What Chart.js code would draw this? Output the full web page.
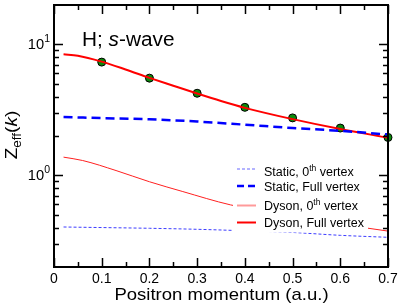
<!DOCTYPE html>
<html>
<head>
<meta charset="utf-8">
<script src="https://cdn.jsdelivr.net/npm/chart.js@4.4.0/dist/chart.umd.min.js"></script>
<style>
  html, body { margin: 0; padding: 0; background: #fff; }
  #wrap { width: 399px; height: 307px; }
</style>
</head>
<body>
<div id="wrap"><canvas id="zeff" width="399" height="307"></canvas></div>
<script>
/* ---- data ---- */
const xTicks = [0, 0.1, 0.2, 0.3, 0.4, 0.5, 0.6, 0.7];
const xTickLabels = ['0', '0.1', '0.2', '0.3', '0.4', '0.5', '0.6', '0.7'];
const xMinorTicks = [0.05, 0.15, 0.25, 0.35, 0.45, 0.55, 0.65];
const yTicks = [1, 10];
const yTickExponents = ['0', '1'];
const yMinorTicks = [0.3, 0.4, 0.5, 0.6, 0.7, 0.8, 0.9, 2, 3, 4, 5, 6, 7, 8, 9];

// Static, 0th vertex (thin dotted blue)
const staticZeroK = [0.02, 0.1, 0.2, 0.3, 0.4, 0.5, 0.6, 0.7];
const staticZeroZ = [0.404, 0.40, 0.395, 0.388, 0.378, 0.367, 0.349, 0.337];

// Static, full vertex (thick dashed blue)
const staticFullK = [0.02, 0.1, 0.2, 0.3, 0.4, 0.5, 0.6, 0.7];
const staticFullZ = [2.79, 2.74, 2.68, 2.58, 2.44, 2.30, 2.19, 2.05];

// Dyson, 0th vertex (thin red)
const dysonZeroK = [0.02, 0.06, 0.13, 0.2, 0.27, 0.37, 0.5, 0.6, 0.7];
const dysonZeroZ = [1.379, 1.30, 1.09, 0.895, 0.753, 0.596, 0.49, 0.425, 0.376];

// Dyson, full vertex (thick red)
const dysonFullK = [0.02, 0.05, 0.1, 0.15, 0.2, 0.25, 0.3, 0.35, 0.4, 0.5, 0.6, 0.7];
const dysonFullZ = [8.41, 8.20, 7.39, 6.44, 5.56, 4.84, 4.22, 3.70, 3.28, 2.69, 2.26, 1.94];

// green reference points
const pointK = [0.1, 0.2, 0.3, 0.4, 0.5, 0.6, 0.7];
const pointZ = [7.33, 5.53, 4.24, 3.31, 2.75, 2.30, 1.95];

const FONT = '"Liberation Sans", Arial, Helvetica, sans-serif';

function pairs(ks, zs) {
    return ks.map((k, i) => ({ x: k, y: zs[i] }));
}

/* draw a run of text pieces (for super/subscripts, italics) */
function drawRuns(ctx, parts, x, y, align, sx) {
    sx = sx || 1;
    let w = 0;
    parts.forEach(p => {
        ctx.font = (p.italic ? 'italic ' : '') + p.size + 'px ' + FONT;
        p.w = ctx.measureText(p.t).width;
        w += p.w;
    });
    let cx = align === 'right' ? -w : align === 'center' ? -w / 2 : 0;
    ctx.save();
    ctx.translate(x, y);
    ctx.scale(sx, 1);
    ctx.textAlign = 'left';
    ctx.textBaseline = 'alphabetic';
    parts.forEach(p => {
        ctx.font = (p.italic ? 'italic ' : '') + p.size + 'px ' + FONT;
        ctx.fillText(p.t, cx, p.dy || 0);
        cx += p.w;
    });
    ctx.restore();
}

const legendItems = [
    { lineY: 169, textY: 175.5, color: '#9a9aff', width: 1.5, dash: [3, 2], parts: [['Static, 0'], ['th', true], [' vertex']] },
    { lineY: 186, textY: 190.5, color: '#0000ff', width: 2.5, dash: [7, 4], parts: [['Static, Full vertex']] },
    { lineY: 205.5, textY: 210, color: '#ff9a9a', width: 2, dash: [], parts: [['Dyson, 0'], ['th', true], [' vertex']] },
    { lineY: 222.5, textY: 227, color: '#ff0000', width: 2, dash: [], parts: [['Dyson, Full vertex']] },
];

const framePlugin = {
    id: 'framePlugin',
    afterDatasetsDraw(chart) {
        const ctx = chart.ctx;
        ctx.save();
        // legend box (white, hides the thin curves)
        ctx.fillStyle = '#fff';
        ctx.fillRect(233, 158, 135, 74.5);
        legendItems.forEach(it => {
            ctx.beginPath();
            ctx.strokeStyle = it.color;
            ctx.lineWidth = it.width;
            ctx.setLineDash(it.dash);
            ctx.moveTo(237, it.lineY);
            ctx.lineTo(256, it.lineY);
            ctx.stroke();
            ctx.setLineDash([]);
            ctx.fillStyle = '#000';
            drawRuns(ctx, it.parts.map(p => p[1]
                ? { t: p[0], size: 8.5, dy: -5 }
                : { t: p[0], size: 12.5 }), 264, it.textY, 'left', 1);
        });
        ctx.restore();
    },
    afterDraw(chart) {
        const ctx = chart.ctx;
        const a = chart.chartArea;
        const xs = chart.scales.x, ys = chart.scales.y;
        ctx.save();
        ctx.strokeStyle = '#000';
        ctx.fillStyle = '#000';
        ctx.lineWidth = 2;
        ctx.strokeRect(a.left, a.top, a.right - a.left, a.bottom - a.top);

        ctx.lineWidth = 1.5;
        ctx.beginPath();
        const tickX = (v, len) => {
            const px = Math.round(xs.getPixelForValue(v)) + 0.5;
            ctx.moveTo(px, a.bottom); ctx.lineTo(px, a.bottom - len);
            ctx.moveTo(px, a.top); ctx.lineTo(px, a.top + len);
        };
        const tickY = (v, len) => {
            const py = Math.round(ys.getPixelForValue(v)) + 0.5;
            ctx.moveTo(a.left, py); ctx.lineTo(a.left + len, py);
            ctx.moveTo(a.right, py); ctx.lineTo(a.right - len, py);
        };
        xTicks.forEach(v => tickX(v, 9));
        xMinorTicks.forEach(v => tickX(v, 5));
        yTicks.forEach(v => tickY(v, 9));
        yMinorTicks.forEach(v => tickY(v, 5));
        ctx.stroke();

        // x tick labels
        xTicks.forEach((v, i) => {
            drawRuns(ctx, [{ t: xTickLabels[i], size: 14 }], xs.getPixelForValue(v), 283, 'center', 1.0);
        });
        // y tick labels 10^n
        yTicks.forEach((v, i) => {
            const py = ys.getPixelForValue(v);
            drawRuns(ctx, [{ t: '10', size: 14 }, { t: yTickExponents[i], size: 10, dy: -7 }], 50, py + 5, 'right', 1.05);
        });

        // axis titles
        drawRuns(ctx, [{ t: 'Positron momentum (a.u.)', size: 17 }], 221.5, 300, 'center', 1.09);
        ctx.save();
        ctx.translate(16.5, 135);
        ctx.rotate(-Math.PI / 2);
        drawRuns(ctx, [
            { t: 'Z', size: 17 },
            { t: 'eff', size: 12, dy: 4 },
            { t: '(', size: 17 },
            { t: 'k', size: 17, italic: true },
            { t: ')', size: 17 },
        ], 0, 0, 'center', 1.12);
        ctx.restore();

        // panel title
        drawRuns(ctx, [
            { t: 'H; ', size: 20 },
            { t: 's', size: 20, italic: true },
            { t: '-wave', size: 20 },
        ], 82, 46, 'left', 1.04);
        ctx.restore();
    }
};

new Chart(document.getElementById('zeff'), {
    type: 'line',
    data: {
        datasets: [
            {
                label: 'Static, 0th vertex',
                data: pairs(staticZeroK, staticZeroZ),
                borderColor: '#3c3cff',
                borderWidth: 1,
                borderDash: [3, 2],
                pointRadius: 0,
                cubicInterpolationMode: 'monotone',
            },
            {
                label: 'Static, Full vertex',
                data: pairs(staticFullK, staticFullZ),
                borderColor: '#0000ff',
                borderWidth: 2.5,
                borderDash: [9, 5],
                pointRadius: 0,
                cubicInterpolationMode: 'monotone',
            },
            {
                label: 'Dyson, 0th vertex',
                data: pairs(dysonZeroK, dysonZeroZ),
                borderColor: '#ff2020',
                borderWidth: 1,
                pointRadius: 0,
                cubicInterpolationMode: 'monotone',
            },
            {
                label: 'Dyson, Full vertex',
                data: pairs(dysonFullK, dysonFullZ),
                borderColor: '#ff0000',
                borderWidth: 2,
                pointRadius: 0,
                cubicInterpolationMode: 'monotone',
            },
            {
                label: 'points',
                data: pairs(pointK, pointZ),
                showLine: false,
                pointRadius: 4,
                pointBackgroundColor: '#0b8a0b',
                pointBorderColor: '#000',
                pointBorderWidth: 1,
                clip: false,
            },
        ],
    },
    options: {
        responsive: false,
        animation: false,
        devicePixelRatio: 1,
        layout: { padding: { left: 54, right: 11, top: 1, bottom: 40 } },
        plugins: { legend: { display: false }, tooltip: { enabled: false } },
        scales: {
            x: { type: 'linear', min: 0, max: 0.7, display: false },
            y: { type: 'logarithmic', min: 0.2, max: 20, display: false },
        },
    },
    plugins: [framePlugin],
});
</script>
</body>
</html>
